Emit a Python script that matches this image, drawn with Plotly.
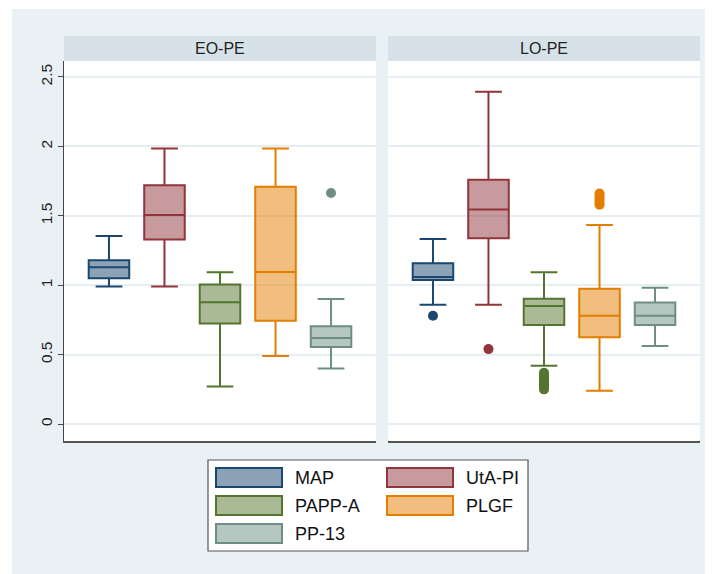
import plotly.graph_objects as go

# ---------------- data ----------------
panels = ["EO-PE", "LO-PE"]
series = ["MAP", "UtA-PI", "PAPP-A", "PLGF", "PP-13"]
line_colors = ["#1a476f", "#90353b", "#55752f", "#e37e00", "#6e8e84"]
fill_colors = ["rgba(26,71,111,0.5)", "rgba(144,53,59,0.5)", "rgba(85,117,47,0.5)",
               "rgba(227,126,0,0.5)", "rgba(110,142,132,0.5)"]

# EO-PE panel: lower whisker, Q1, median, Q3, upper whisker
eo_low = [0.99, 0.99, 0.27, 0.49, 0.40]
eo_q1 = [1.05, 1.33, 0.725, 0.745, 0.555]
eo_med = [1.13, 1.505, 0.877, 1.095, 0.62]
eo_q3 = [1.18, 1.72, 1.006, 1.71, 0.705]
eo_high = [1.355, 1.985, 1.093, 1.985, 0.90]
eo_out = [[], [], [], [], [1.664]]

# LO-PE panel
lo_low = [0.86, 0.86, 0.42, 0.24, 0.562]
lo_q1 = [1.037, 1.338, 0.713, 0.625, 0.713]
lo_med = [1.06, 1.545, 0.85, 0.78, 0.78]
lo_q3 = [1.158, 1.76, 0.903, 0.975, 0.876]
lo_high = [1.333, 2.394, 1.093, 1.434, 0.982]
lo_out = [[0.78], [0.54],
          [0.25, 0.26, 0.28, 0.29, 0.30, 0.31, 0.33, 0.34, 0.36, 0.37],
          [1.58, 1.60, 1.62, 1.64, 1.66], []]

y_tickvals = [0, 0.5, 1, 1.5, 2, 2.5]
y_ticktext = ["0", "0.5", "1", "1.5", "2", "2.5"]

# ---------------- figure ----------------
OFF = 8  # page body margin
W, H = 713 - OFF, 574 - OFF
ML, MR, MT, MB = 64 - OFF, 13, 61 - OFF, 133
PW, PH = W - ML - MR, H - MT - MB
FONT = "Liberation Sans, Arial, Helvetica, sans-serif"
OUTER_BG = "#e9f1f4"
STRIP_BG = "#d7e2e8"


def px_x(p):
    return (p - OFF - ML) / PW


def px_y(p):
    return (H - MB - (p - OFF)) / PH


fig = go.Figure()
panel_data = [
    (eo_low, eo_q1, eo_med, eo_q3, eo_high, eo_out),
    (lo_low, lo_q1, lo_med, lo_q3, lo_high, lo_out),
]
for pi, (lo, q1, med, q3, hi, outs) in enumerate(panel_data):
    xa = "x" if pi == 0 else "x2"
    ya = "y" if pi == 0 else "y2"
    for i, name in enumerate(series):
        pos = i + 1
        fig.add_trace(go.Box(
            x=[pos], q1=[q1[i]], median=[med[i]], q3=[q3[i]],
            lowerfence=[lo[i]], upperfence=[hi[i]],
            width=0.73, whiskerwidth=0.66,
            fillcolor=fill_colors[i], line=dict(color=line_colors[i], width=2),
            boxpoints=False, name=name, showlegend=False,
            xaxis=xa, yaxis=ya,
        ))
        if outs[i]:
            fig.add_trace(go.Scatter(
                x=[pos] * len(outs[i]), y=outs[i], mode="markers",
                marker=dict(color=line_colors[i], size=10, line=dict(width=0)),
                showlegend=False, xaxis=xa, yaxis=ya, name=name,
            ))

gap = 12 / PW
dom1 = [0, (PW - 12) / 2 / PW]
dom2 = [dom1[1] + gap, 1]
xrange = [0.19, 5.81]
yrange = [-0.122, 2.615]

common_x = dict(range=xrange, showticklabels=False, ticks="", showgrid=False,
                zeroline=False, showline=True, linecolor="#555555", linewidth=1.5)
fig.update_layout(
    xaxis=dict(domain=dom1, **common_x),
    xaxis2=dict(domain=dom2, **common_x),
    yaxis=dict(range=yrange, tickvals=y_tickvals, ticktext=y_ticktext,
               tickangle=-90, ticks="outside", ticklen=5, tickcolor="#444444",
               showline=True, linecolor="#444444", linewidth=1.2,
               showgrid=True, gridcolor="#e6eef2", gridwidth=1.5, zeroline=False,
               tickfont=dict(size=15.5, color="#222222", family=FONT)),
    yaxis2=dict(range=yrange, anchor="x2", tickvals=y_tickvals, showticklabels=False,
                ticks="", showline=False, showgrid=True, gridcolor="#e6eef2",
                gridwidth=1.5, zeroline=False),
    boxmode="overlay",
    width=W, height=H,
    margin=dict(l=ML, r=MR, t=MT, b=MB, pad=0),
    paper_bgcolor=OUTER_BG, plot_bgcolor="white",
    font=dict(family=FONT, color="#222222"),
    showlegend=False,
)

shapes = []
annotations = []
# white outer margins (left and top) of the graph region
shapes.append(dict(type="rect", xref="paper", yref="paper",
                   x0=px_x(OFF - 2), x1=px_x(12), y0=px_y(H + OFF + 2), y1=px_y(OFF - 2),
                   fillcolor="white", line=dict(width=0)))
shapes.append(dict(type="rect", xref="paper", yref="paper",
                   x0=px_x(OFF - 2), x1=px_x(W + OFF + 2), y0=px_y(9), y1=px_y(OFF - 2),
                   fillcolor="white", line=dict(width=0)))
# panel header strips
for dom, label in zip([dom1, dom2], panels):
    shapes.append(dict(type="rect", xref="paper", yref="paper",
                       x0=dom[0], x1=dom[1], y0=1, y1=px_y(36),
                       fillcolor=STRIP_BG, line=dict(width=0)))
    annotations.append(dict(text=label, xref="paper", yref="paper",
                            x=(dom[0] + dom[1]) / 2, y=px_y(48.5),
                            xanchor="center", yanchor="middle", showarrow=False,
                            font=dict(size=16, color="#222222", family=FONT)))

# legend box
shapes.append(dict(type="rect", xref="paper", yref="paper",
                   x0=px_x(208), x1=px_x(528), y0=px_y(551), y1=px_y(460),
                   fillcolor="white", line=dict(color="#555555", width=1.2)))
col_x = [216, 387]
row_y = [468, 496, 524]
for i, name in enumerate(series):
    c, r = i % 2, i // 2
    x0, y0 = col_x[c], row_y[r]
    shapes.append(dict(type="rect", xref="paper", yref="paper",
                       x0=px_x(x0), x1=px_x(x0 + 66), y0=px_y(y0 + 19), y1=px_y(y0),
                       fillcolor=fill_colors[i], line=dict(color=line_colors[i], width=2)))
    annotations.append(dict(text=name, xref="paper", yref="paper",
                            x=px_x(x0 + 77), y=px_y(y0 + 10),
                            xanchor="left", yanchor="middle", showarrow=False,
                            font=dict(size=18, color="#111111", family=FONT)))

fig.update_layout(shapes=shapes, annotations=annotations)
fig.write_html("out.html")
